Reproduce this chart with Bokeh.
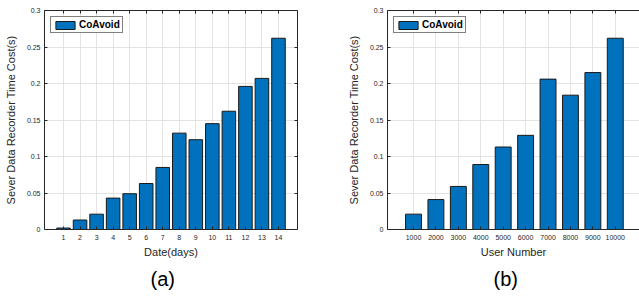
from bokeh.plotting import figure
from bokeh.models import (FixedTicker, LinearAxis, Range1d, Legend, LegendItem,
                          Title, ColumnDataSource)
from bokeh.layouts import row
from bokeh.embed import file_html
from bokeh.resources import INLINE

# ---- data ----
days = [1, 2, 3, 4, 5, 6, 7, 8, 9, 10, 11, 12, 13, 14]
day_labels = ["1", "2", "3", "4", "5", "6", "7", "8", "9", "10", "11", "12", "13", "14"]
cost_days = [0.002, 0.013, 0.021, 0.043, 0.049, 0.063, 0.085, 0.132, 0.123,
             0.145, 0.162, 0.196, 0.207, 0.262]

user_pos = [1, 2, 3, 4, 5, 6, 7, 8, 9, 10]
user_labels = ["1000", "2000", "3000", "4000", "5000", "6000", "7000", "8000",
               "9000", "10000"]
cost_users = [0.021, 0.041, 0.059, 0.089, 0.113, 0.129, 0.206, 0.184, 0.215, 0.262]

y_ticks = [0, 0.05, 0.1, 0.15, 0.2, 0.25, 0.3]
y_tick_labels = ["0", "0.05", "0.1", "0.15", "0.2", "0.25", "0.3"]

series_name = "CoAvoid"
y_title = "Sever Data Recorder Time Cost(s)"

FONT = "Liberation Sans"
AX = "#262626"
BAR = "#0072BD"
GRID = "#e3e3e3"


def style_axis(ax, show_labels=True):
    ax.axis_line_color = AX
    ax.axis_line_width = 1
    ax.major_tick_line_color = AX
    ax.major_tick_in = 3
    ax.major_tick_out = 0
    ax.minor_tick_line_color = None
    ax.major_label_text_font = FONT
    ax.major_label_text_color = AX
    ax.axis_label_text_font = FONT
    ax.axis_label_text_color = AX
    ax.axis_label_text_font_style = "normal"
    ax.axis_label_text_font_size = "11px"
    if show_labels:
        ax.major_label_text_font_size = "7px"
    else:
        ax.major_label_text_font_size = "1px"
        ax.major_label_text_color = None
        ax.major_label_standoff = 0


def make_panel(xs, xlabels, vals, xlab, letter, width, xr, bl, br, bar_w,
               right_axis, title_offset):
    p = figure(width=width, height=297, output_backend="svg",
               toolbar_location=None, x_range=Range1d(*xr),
               y_range=Range1d(0, 0.3), min_border_left=bl,
               min_border_right=br, min_border_top=10, min_border_bottom=68)
    p.outline_line_color = None
    p.background_fill_color = "white"
    src = ColumnDataSource(dict(x=xs, top=vals))
    r = p.vbar(x="x", top="top", width=bar_w, source=src, fill_color=BAR,
               line_color="#1a1a1a", line_width=1)

    xt = FixedTicker(ticks=xs)
    yt = FixedTicker(ticks=y_ticks)
    p.xaxis.ticker = xt
    p.yaxis.ticker = yt
    p.xaxis.major_label_overrides = dict(zip(xs, xlabels))
    p.yaxis.major_label_overrides = dict(zip(y_ticks, y_tick_labels))
    p.xaxis.axis_label = xlab
    p.yaxis.axis_label = y_title
    for ax in p.xaxis + p.yaxis:
        style_axis(ax)
    p.xaxis.major_label_standoff = 5
    p.yaxis.major_label_standoff = 4
    p.xaxis.axis_label_standoff = 3
    p.yaxis.axis_label_standoff = 7

    top = LinearAxis(ticker=FixedTicker(ticks=xs))
    style_axis(top, show_labels=False)
    p.add_layout(top, "above")
    if right_axis:
        rt = LinearAxis(ticker=FixedTicker(ticks=y_ticks))
        style_axis(rt, show_labels=False)
        p.add_layout(rt, "right")

    p.xgrid.ticker = xt
    p.ygrid.ticker = yt
    for g in (p.xgrid, p.ygrid):
        g.grid_line_color = GRID
        g.grid_line_width = 1

    leg = Legend(items=[LegendItem(label=series_name, renderers=[r])],
                 location="top_left", margin=6, padding=2, spacing=0,
                 glyph_width=24, glyph_height=10, label_height=11,
                 label_standoff=2, label_text_font=FONT,
                 label_text_font_size="10px", label_text_font_style="bold",
                 label_text_color="black", border_line_color="black",
                 border_line_width=1, background_fill_alpha=1)
    p.add_layout(leg)

    t = Title(text=letter, align="left", offset=title_offset,
              text_font=FONT, text_font_size="20px",
              text_font_style="normal", text_color="black", standoff=10)
    p.add_layout(t, "below")
    return p


pa = make_panel(days, day_labels, cost_days, "Date(days)", "(a)", 318,
                (-0.15, 15.15), 44, 21, 0.82, True, 106)
pb = make_panel(user_pos, user_labels, cost_users, "User Number", "(b)", 321,
                (-0.16, 11.08), 69, 0, 0.71, False, 106)

layout = row(pa, pb)
open("out.html", "w").write(file_html(layout, INLINE))
